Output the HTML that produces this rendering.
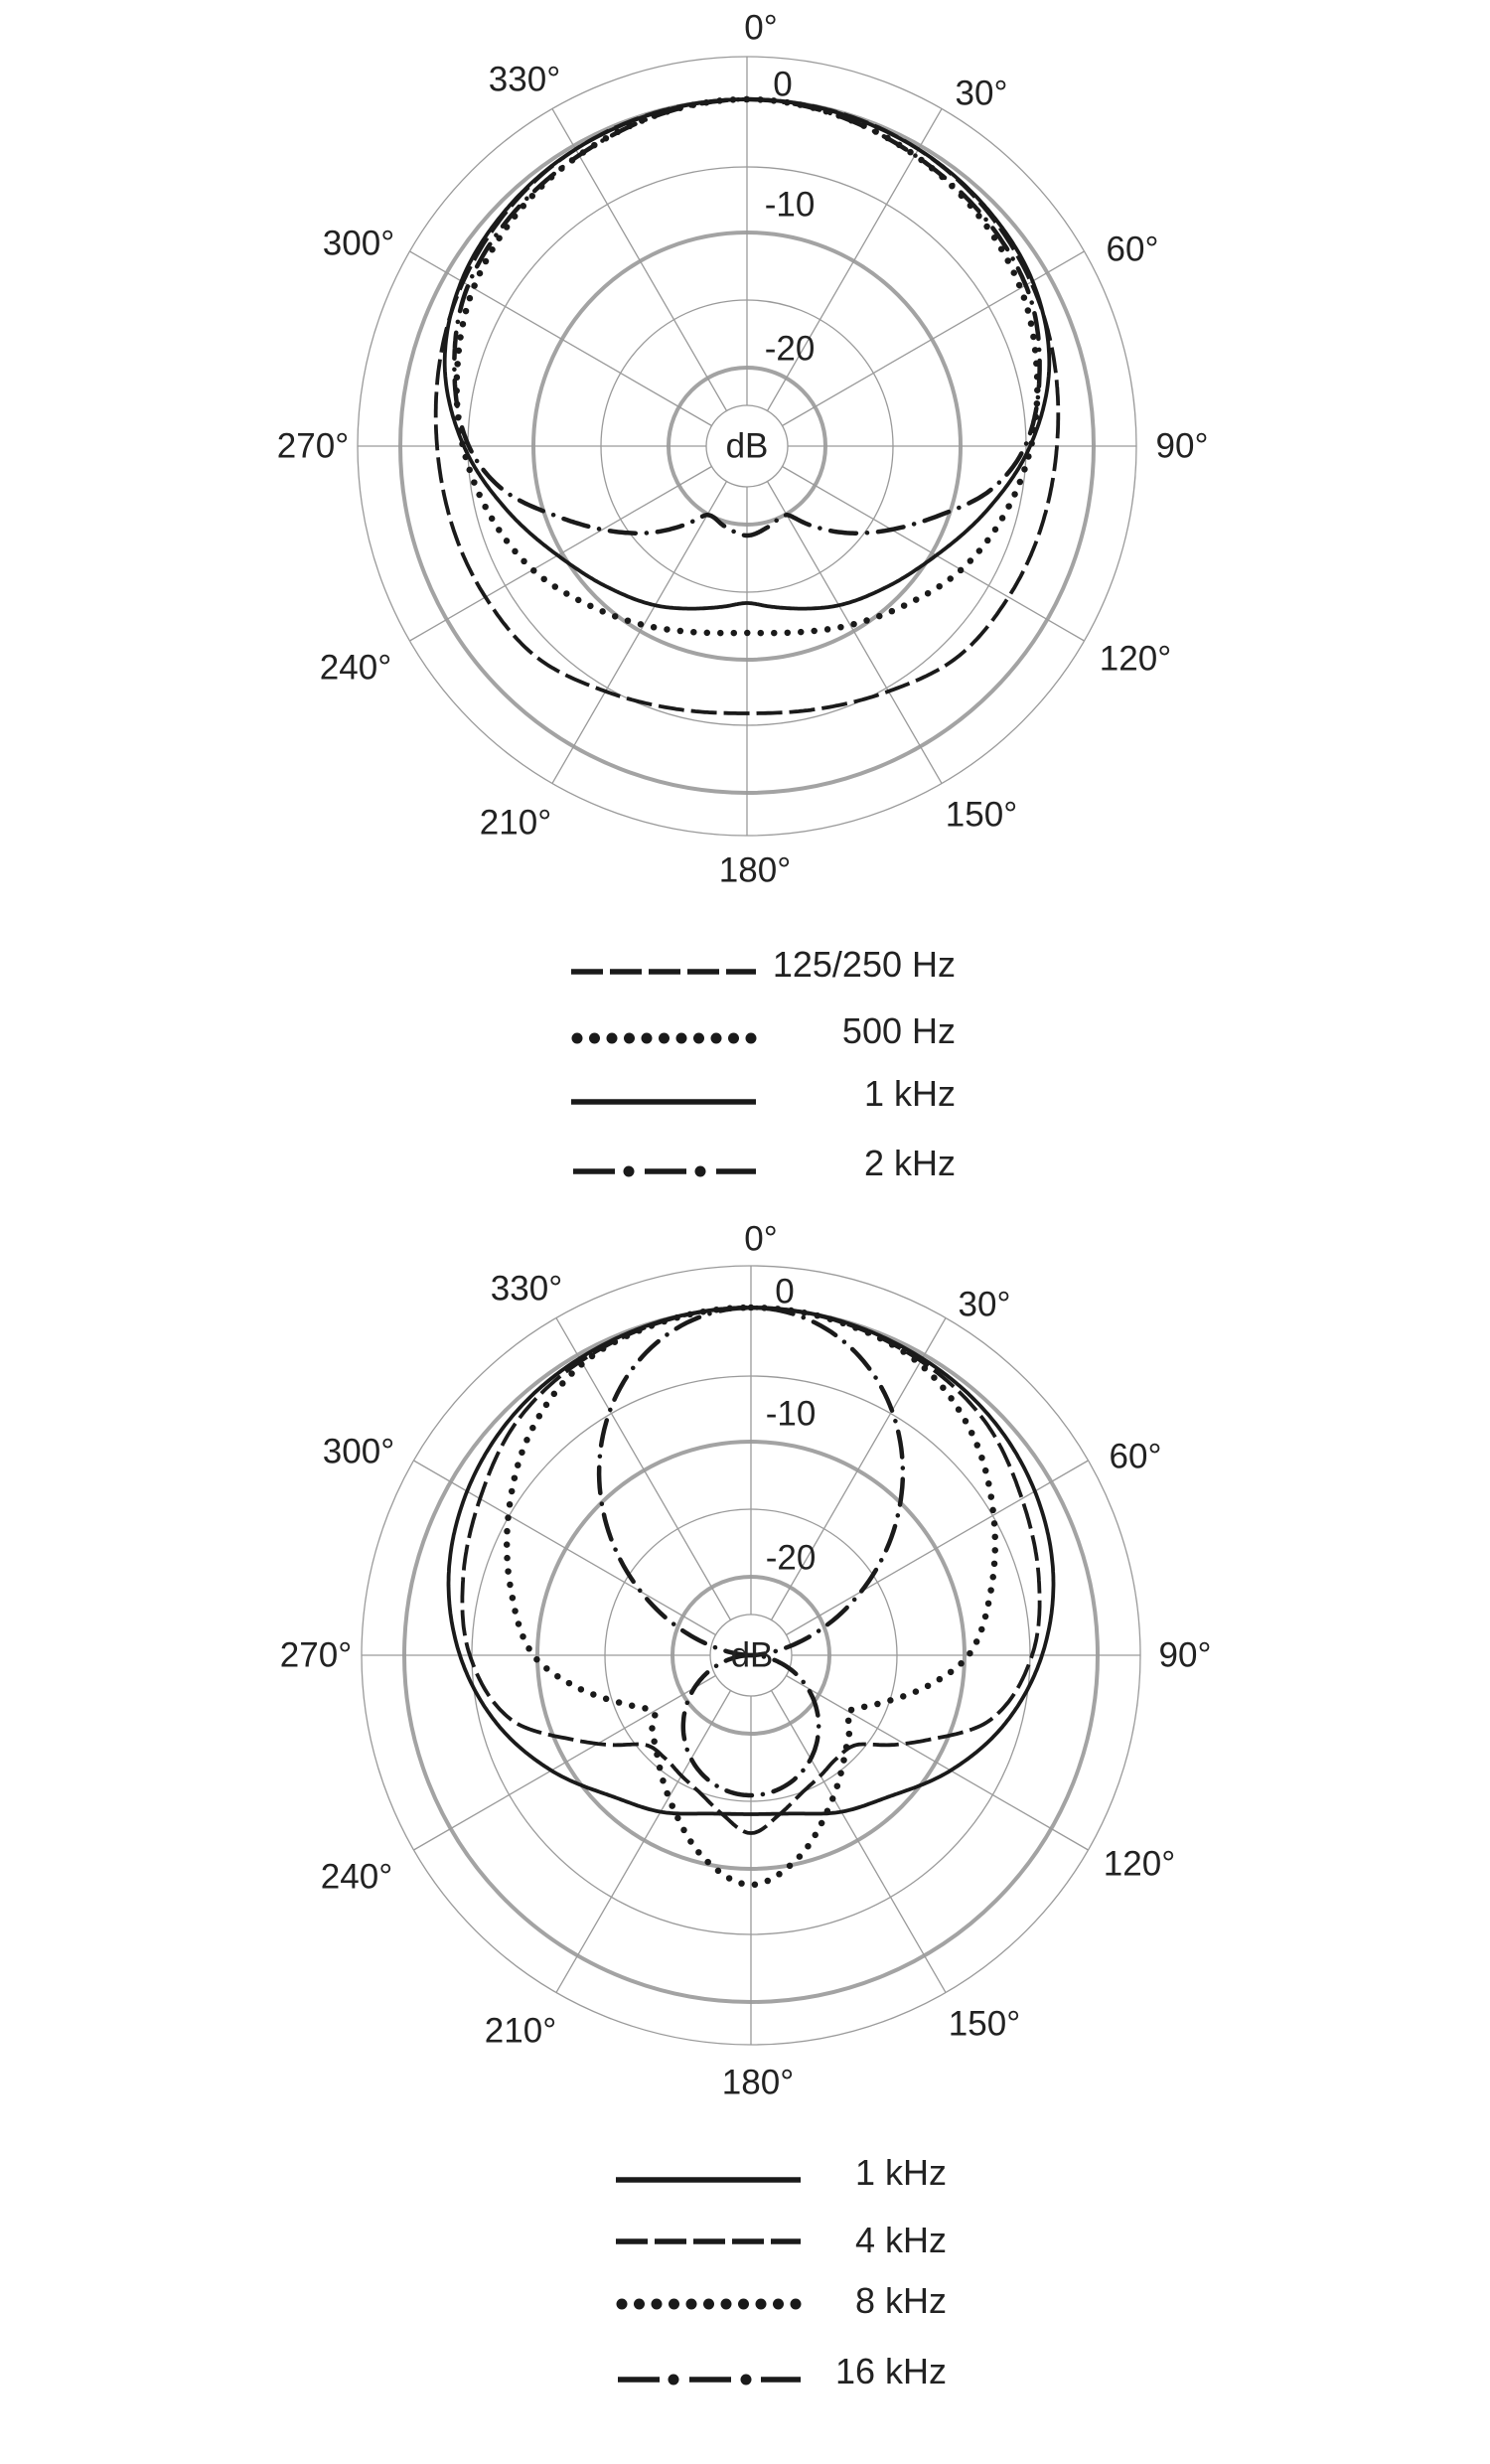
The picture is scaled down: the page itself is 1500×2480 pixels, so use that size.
<!DOCTYPE html>
<html><head><meta charset="utf-8"><style>
html,body{margin:0;padding:0;background:#fff;}
svg{display:block;}
text{font-family:"Liberation Sans",sans-serif;fill:#222;}
</style></head><body>
<svg id="s" width="1500" height="2480" viewBox="0 0 1500 2480" xmlns="http://www.w3.org/2000/svg">
<rect width="1500" height="2480" fill="#fff"/>
<g id="grid1"></g><g id="grid2"></g><g id="curves"></g>
<g font-size="35" text-anchor="middle" dominant-baseline="central">
<text x="766" y="28">0°</text>
<text x="528" y="80">330°</text>
<text x="988" y="94">30°</text>
<text x="361" y="245">300°</text>
<text x="1140" y="251">60°</text>
<text x="315" y="449">270°</text>
<text x="1190" y="449">90°</text>
<text x="358" y="672">240°</text>
<text x="1143" y="663">120°</text>
<text x="519" y="828">210°</text>
<text x="988" y="820">150°</text>
<text x="760" y="876">180°</text>
<text x="788" y="85">0</text>
<text x="795" y="206">-10</text>
<text x="795" y="351">-20</text>
<text x="752" y="449">dB</text>

<text x="766" y="1247">0°</text>
<text x="530" y="1297">330°</text>
<text x="991" y="1313">30°</text>
<text x="361" y="1461">300°</text>
<text x="1143" y="1466">60°</text>
<text x="318" y="1666">270°</text>
<text x="1193" y="1666">90°</text>
<text x="359" y="1889">240°</text>
<text x="1147" y="1876">120°</text>
<text x="524" y="2044">210°</text>
<text x="991" y="2037">150°</text>
<text x="763" y="2096">180°</text>
<text x="790" y="1300">0</text>
<text x="796" y="1423">-10</text>
<text x="796" y="1568">-20</text>
<text x="757" y="1666">dB</text>
</g>
<g font-size="36" text-anchor="end">
<text x="962" y="983">125/250 Hz</text>
<text x="962" y="1050">500 Hz</text>
<text x="962" y="1113">1 kHz</text>
<text x="962" y="1183">2 kHz</text>
<text x="953" y="2199">1 kHz</text>
<text x="953" y="2267">4 kHz</text>
<text x="953" y="2328">8 kHz</text>
<text x="953" y="2399">16 kHz</text>
</g>
<g stroke="#1a1a1a" fill="none">
<line x1="575" y1="978" x2="761" y2="978" stroke-width="5.5" stroke-dasharray="32 7"/>
<line x1="581" y1="1045" x2="761" y2="1045" stroke-width="11" stroke-linecap="round" stroke-dasharray="0 17.5"/>
<line x1="575" y1="1109" x2="761" y2="1109" stroke-width="5.5"/>
<line x1="577" y1="1179" x2="761" y2="1179" stroke-width="5.5" stroke-dasharray="42 30 42 30 60"/>
<circle cx="633" cy="1179" r="5.5" fill="#1a1a1a" stroke="none"/><circle cx="705" cy="1179" r="5.5" fill="#1a1a1a" stroke="none"/>
<line x1="620" y1="2194" x2="806" y2="2194" stroke-width="5.5"/>
<line x1="620" y1="2256" x2="806" y2="2256" stroke-width="5.5" stroke-dasharray="32 7"/>
<line x1="626" y1="2319" x2="806" y2="2319" stroke-width="11" stroke-linecap="round" stroke-dasharray="0 17.5"/>
<line x1="622" y1="2395" x2="806" y2="2395" stroke-width="5.5" stroke-dasharray="42 30 42 30 60"/>
<circle cx="678" cy="2395" r="5.5" fill="#1a1a1a" stroke="none"/><circle cx="751" cy="2395" r="5.5" fill="#1a1a1a" stroke="none"/>
</g>
</svg>
<script>
var NS="http://www.w3.org/2000/svg";
function el(p,t,a){var e=document.createElementNS(NS,t);for(var k in a)e.setAttribute(k,a[k]);p.appendChild(e);return e;}
function grid(g,cx,cy){
 [392,281,147,41].forEach(function(r){el(g,"circle",{cx:cx,cy:cy,r:r,fill:"none",stroke:"#9a9a9a","stroke-width":1.3});});
 [349,215,79].forEach(function(r){el(g,"circle",{cx:cx,cy:cy,r:r,fill:"none",stroke:"#a3a3a3","stroke-width":4});});
 for(var a=0;a<360;a+=30){var t=a*Math.PI/180,s=Math.sin(t),c=-Math.cos(t);
  el(g,"line",{x1:cx+41*s,y1:cy+41*c,x2:cx+392*s,y2:cy+392*c,stroke:"#9a9a9a","stroke-width":1.3});}
}
grid(document.getElementById("grid1"),752,449);
grid(document.getElementById("grid2"),756,1666);
// monotone-ish smooth interpolation (Catmull-Rom) with mirrored ends
function interp(tbl,a){
 var n=tbl.length;
 function P(i){if(i<0)return [-tbl[-i][0],tbl[-i][1]];if(i>=n){var j=2*(n-1)-i;return [360-tbl[j][0],tbl[j][1]];}return tbl[i];}
 for(var i=0;i<n-1;i++){var A=tbl[i],B=tbl[i+1];if(a>=A[0]&&a<=B[0]){
  var p0=P(i-1),p3=P(i+2);var h=B[0]-A[0];var f=(a-A[0])/h;
  var m1=(B[1]-p0[1])/(B[0]-p0[0])*h, m2=(p3[1]-A[1])/(p3[0]-A[0])*h;
  var f2=f*f,f3=f2*f;
  return (2*f3-3*f2+1)*A[1]+(f3-2*f2+f)*m1+(-2*f3+3*f2)*B[1]+(f3-f2)*m2;}}
 return tbl[n-1][1];}
function sym(cx,cy,tbl){var d="";for(var a=0;a<=360;a+=0.5){var aa=a<=180?a:360-a;var r=interp(tbl,aa);var t=a*Math.PI/180;var x=cx+r*Math.sin(t),y=cy-r*Math.cos(t);d+=(a?"L":"M")+x.toFixed(1)+" "+y.toFixed(1);}return d+"Z";}
var C=document.getElementById("curves");
var st={
 dash:{stroke:"#1a1a1a","stroke-width":3.8,fill:"none","stroke-dasharray":"26 7"},
 dot:{stroke:"#1a1a1a","stroke-width":6.5,fill:"none","stroke-linecap":"round","stroke-dasharray":"0 13.5"},
 solid:{stroke:"#1a1a1a","stroke-width":3.8,fill:"none"},
 dd:{stroke:"#1a1a1a","stroke-width":4.5,fill:"none","stroke-linecap":"round","stroke-dasharray":"26 11 0.1 11"}
};
function draw(d,s){var a={d:d};for(var k in st[s])a[k]=st[s][k];el(C,"path",a);}
var cx=752,cy=449;
draw(sym(cx,cy,[[0,349],[30,345],[60,330],[90,312],[120,304],[135,300],[150,285],[165,274],[180,269]]),"dash");
draw(sym(cx,cy,[[0,349],[30,338],[60,318],[75,302],[90,286],[105,268],[120,249],[135,226],[150,208],[165,194],[180,188]]),"dot");
draw(sym(cx,cy,[[0,349],[30,345],[45,340],[60,332],[75,315],[90,285],[105,250],[120,220],[135,200],[150,185],[162,172],[172,163],[180,158]]),"solid");
draw(sym(cx,cy,[[0,349],[30,338],[60,324],[75,305],[90,280],[100,250],[110,205],[120,168],[133,127],[142,100],[150,80],[165,84],[180,90]]),"dd");
cx=756;cy=1666;
draw(sym(cx,cy,[[0,350],[30,345],[45,340],[60,330],[75,315],[90,293],[105,265],[120,232],[135,200],[150,182],[165,165],[180,160]]),"solid");
draw(sym(cx,cy,[[0,350],[30,342],[45,333],[60,315],[75,300],[90,283],[105,250],[115,200],[122,170],[130,140],[140,135],[150,140],[160,148],[170,163],[180,179]]),"dash");
draw(sym(cx,cy,[[0,350],[15,347],[30,339],[45,315],[60,282],[75,250],[90,219],[100,180],[110,140],[120,113],[126,123],[135,135],[143,150],[154,175],[168,212],[180,231]]),"dot");
var d="";for(var a=-90;a<=90;a+=1){var t=a*Math.PI/180;var r=350*Math.pow(Math.cos(t),1.45);d+=(a>-90?"L":"M")+(cx+r*Math.sin(t)).toFixed(1)+" "+(cy-r*Math.cos(t)).toFixed(1);}
draw(d,"dd");
d="";for(var a=-90;a<=90;a+=1){var t=a*Math.PI/180;var r=141*Math.pow(Math.cos(t),1.1);d+=(a>-90?"L":"M")+(cx+r*Math.sin(t)).toFixed(1)+" "+(cy+r*Math.cos(t)).toFixed(1);}
draw(d,"dd");
</script>
</body></html>
